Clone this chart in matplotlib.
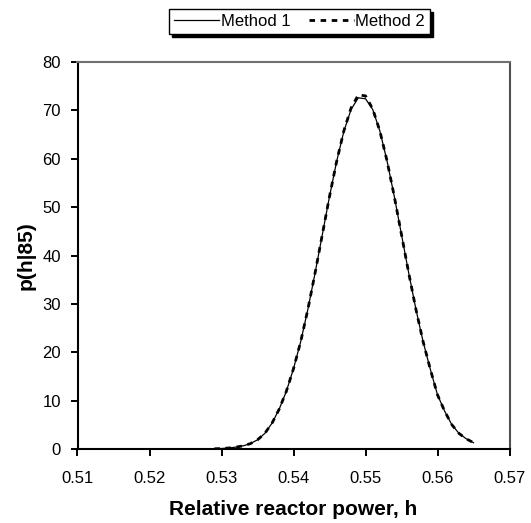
import matplotlib
matplotlib.use("Agg")
import matplotlib.pyplot as plt

plt.rcParams['font.family'] = ['Liberation Sans', 'DejaVu Sans']

h = [0.529, 0.530, 0.531, 0.532, 0.533, 0.534, 0.535, 0.536, 0.537, 0.538,
     0.539, 0.540, 0.541, 0.542, 0.543, 0.544, 0.545, 0.546, 0.547, 0.548,
     0.549, 0.550, 0.551, 0.552, 0.553, 0.554, 0.555, 0.556, 0.557, 0.558,
     0.559, 0.560, 0.561, 0.562, 0.563, 0.564, 0.565]
method1 = [0.04, 0.10, 0.20, 0.38, 0.65, 1.1, 1.9, 3.2, 5.3, 8.2,
           11.9, 16.6, 22.2, 28.9, 36.4, 44.3, 52.2, 59.5, 65.7, 70.2,
           72.6, 72.4, 70.2, 65.7, 59.5, 52.2, 44.3, 36.4, 28.9, 22.2,
           16.5, 11.2, 7.8, 5.0, 3.2, 2.1, 1.3]
method2 = [0.04, 0.10, 0.20, 0.38, 0.65, 1.1, 1.9, 3.2, 5.3, 8.2,
           11.9, 16.6, 22.2, 28.9, 36.4, 44.3, 52.2, 59.5, 65.8, 70.5,
           73.2, 73.0, 70.3, 65.7, 59.5, 52.2, 44.3, 36.4, 28.9, 22.2,
           16.5, 11.2, 7.8, 5.0, 3.2, 2.1, 1.3]
xticks = [0.51, 0.52, 0.53, 0.54, 0.55, 0.56, 0.57]
yticks = [0, 10, 20, 30, 40, 50, 60, 70, 80]

W, H = 531, 523
fig = plt.figure(figsize=(W / 100, H / 100), dpi=100)
L, R, T, B = 77.5, 509.5, 62, 449
ax = fig.add_axes([L / W, 1 - B / H, (R - L) / W, (B - T) / H])

l1, = ax.plot(h, method1, color='black', lw=0.9, label='Method 1')
l2, = ax.plot(h, method2, color='black', lw=2.0, linestyle=(0, (2, 2)),
              label='Method 2')

ax.set_xlim(0.51, 0.57)
ax.set_ylim(0, 80)
ax.set_xticks(xticks)
ax.set_xticklabels([f"{v:.2f}" for v in xticks])
ax.set_yticks(yticks)
ax.set_yticklabels([str(v) for v in yticks])
ax.tick_params(axis='both', direction='out', length=5, width=1.4,
               labelsize=12, colors='black')
ax.tick_params(axis='x', pad=11)
ax.tick_params(axis='y', pad=7)

for s in ['left', 'bottom']:
    ax.spines[s].set_linewidth(1.5)
    ax.spines[s].set_color('black')
ax.spines['top'].set_color('#707070')
ax.spines['top'].set_linewidth(1.5)
ax.spines['right'].set_color('#505050')
ax.spines['right'].set_linewidth(1.5)

ax.set_xlabel('Relative reactor power, h', fontsize=15, fontweight='bold',
              labelpad=10)
fig.text(26 / W, 1 - 255.5 / H, 'p(h|85)', rotation=90, fontsize=15,
         fontweight='bold', ha='center', va='center')

leg = fig.legend(handles=[l1, l2], loc='upper right',
                 bbox_to_anchor=(430 / W, 1 - 9 / H), ncol=2,
                 fontsize=12, frameon=True, fancybox=False,
                 shadow={'color': 'black', 'alpha': 1},
                 borderaxespad=0, handlelength=2.7, handletextpad=0.1,
                 columnspacing=1.1, borderpad=0.3)
leg.get_frame().set_edgecolor('black')
leg.get_frame().set_linewidth(1.0)

fig.savefig('out.png', dpi=100)
